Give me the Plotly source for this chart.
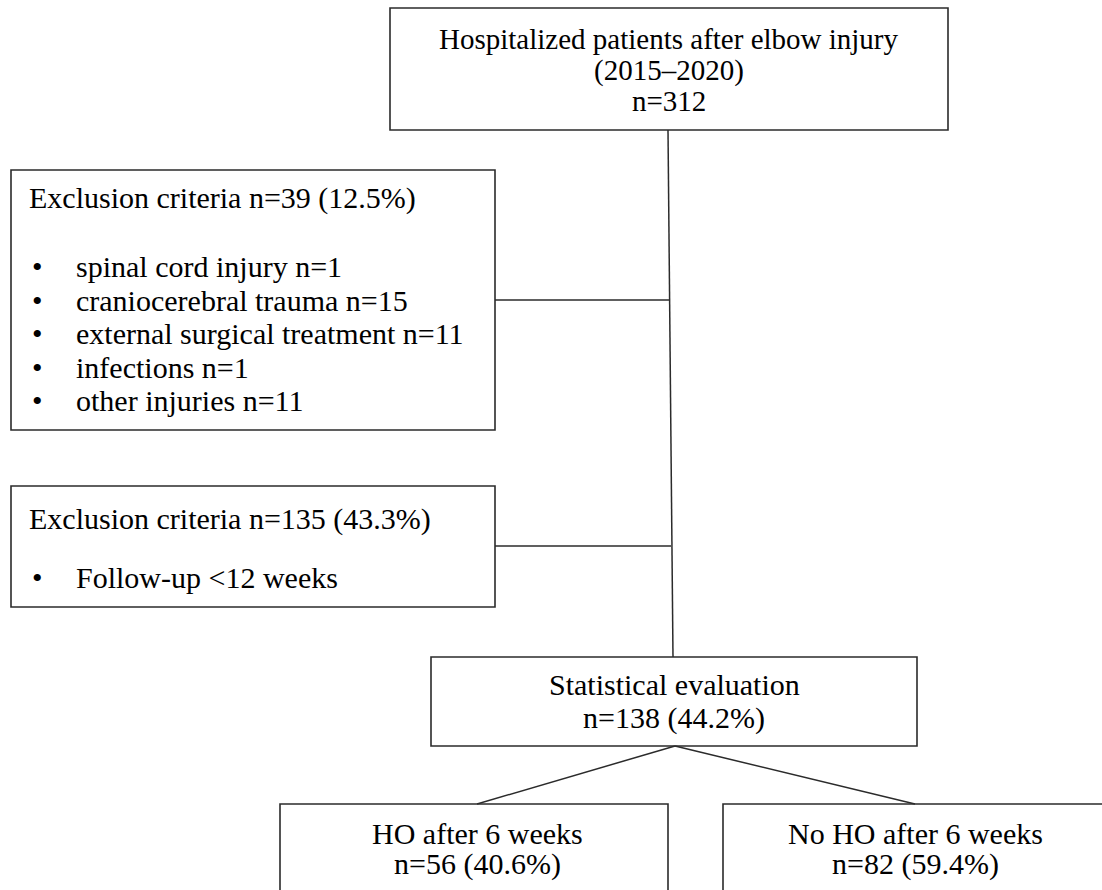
import plotly.graph_objects as go

# ---- data ----
total_n = 312
years = "2015–2020"
excl1_n = 39
excl1_pct = 12.5
excl1_reasons = ["spinal cord injury", "craniocerebral trauma", "external surgical treatment",
                 "infections", "other injuries"]
excl1_counts = [1, 15, 11, 1, 11]
excl2_n = 135
excl2_pct = 43.3
excl2_reasons = ["Follow-up <12 weeks"]
eval_n = 138
eval_pct = 44.2
group_labels = ["HO after 6 weeks", "No HO after 6 weeks"]
group_counts = [56, 82]
group_pcts = [40.6, 59.4]

# ---- layout geometry (pixels, y downwards) ----
W, H = 1102, 890
boxes = {
    "top": (390, 8, 948, 130),
    "ex1": (11, 170, 495, 430),
    "ex2": (11, 486, 495, 607),
    "eval": (431, 657, 917, 746),
    "g0": (280, 804, 668, 900),
    "g1": (723, 804, 1112, 900),
}
LINE = "#2b2b2b"
FONT = "Liberation Serif"
FS = 30
TXT = "#000000"

fig = go.Figure()
fig.add_trace(go.Scatter(x=[0, W], y=[0, H], mode="markers", marker=dict(opacity=0),
                         hoverinfo="skip", showlegend=False))

shapes = []
for k, (x0, y0, x1, y1) in boxes.items():
    shapes.append(dict(type="rect", xref="x", yref="y", x0=x0, y0=y0, x1=x1, y1=y1,
                       line=dict(color=LINE, width=1.6), fillcolor="rgba(0,0,0,0)", layer="above"))

def seg(x0, y0, x1, y1):
    shapes.append(dict(type="line", xref="x", yref="y", x0=x0, y0=y0, x1=x1, y1=y1,
                       line=dict(color=LINE, width=1.5)))

seg(668, 130, 673, 657)
seg(495, 300, 669, 300)
seg(495, 546, 671, 546)
seg(675, 746, 477, 804)
seg(675, 746, 915, 804)

ann = []
def txt(x, y, s, anchor="center", size=FS):
    ann.append(dict(x=x, y=y, xref="x", yref="y", text=s, showarrow=False,
                    xanchor=anchor, yanchor="middle",
                    font=dict(family=FONT, size=size, color=TXT)))

# top box
txt(669, 39, "Hospitalized patients after elbow injury", size=29)
txt(669, 70, f"({years})", size=29)
txt(669, 101, f"n={total_n}", size=29)

# exclusion 1
txt(27, 198, f"Exclusion criteria n={excl1_n} ({excl1_pct}%)", "left")
ys1 = [266, 300, 333, 367, 400]
for y, r, c in zip(ys1, excl1_reasons, excl1_counts):
    txt(30, y, "•", "left")
    txt(74, y, f"{r} n={c}", "left")

# exclusion 2
txt(27, 519, f"Exclusion criteria n={excl2_n} ({excl2_pct}%)", "left")
for y, r in zip([577], excl2_reasons):
    txt(30, y, "•", "left")
    txt(74, y, r, "left")

# evaluation
txt(674, 684, "Statistical evaluation")
txt(674, 718, f"n={eval_n} ({eval_pct}%)")

# groups
for cx, lab, c, p in zip([477, 915], group_labels, group_counts, group_pcts):
    txt(cx, 833, lab)
    txt(cx, 864, f"n={c} ({p}%)")

fig.update_layout(
    width=W, height=H, margin=dict(l=0, r=0, t=0, b=0),
    paper_bgcolor="white", plot_bgcolor="white",
    xaxis=dict(range=[0, W], visible=False, fixedrange=True),
    yaxis=dict(range=[H, 0], visible=False, fixedrange=True),
    shapes=shapes, annotations=ann, showlegend=False,
)
fig.write_html("out.html", config={"displayModeBar": False},
               post_script="document.body.style.margin='0';document.body.style.overflow='hidden';")
